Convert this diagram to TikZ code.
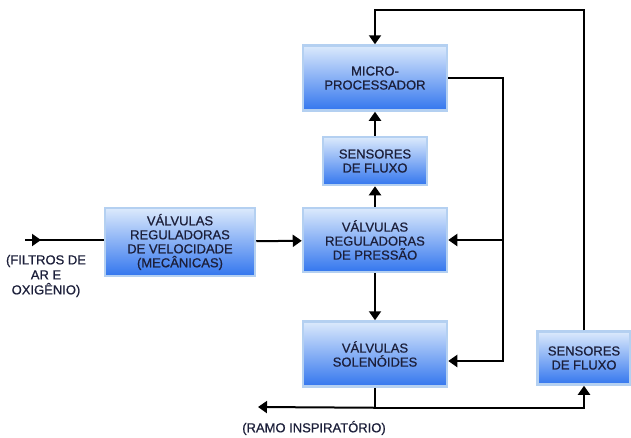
\documentclass[tikz,border=0pt]{standalone}
\usepackage{fontspec}
\setmainfont{Liberation Sans}
\newfontfamily\boxfont[FakeBold=0.8]{Liberation Sans}
\usepackage{tikz}
\usetikzlibrary{arrows.meta}

\definecolor{boxtop}{HTML}{DCEAFC}
\definecolor{boxmid}{HTML}{86B6F5}
\definecolor{boxbot}{HTML}{3376EE}
\definecolor{boxrim}{HTML}{B4D0F1}
\definecolor{boxtext}{HTML}{1C1F3A}

\tikzset{
  block/.style={draw=boxrim, line width=2.5pt, top color=boxtop, middle color=boxmid,
    bottom color=boxbot, align=center, inner sep=2pt, text=boxtext,
    font=\boxfont\fontsize{13}{14}\selectfont},
  line/.style={line width=2pt},
  arr/.style={line, -{Triangle[width=12pt,length=9pt]}},
  lbl/.style={align=center, text=boxtext, font=\boxfont\fontsize{13}{15}\selectfont}
}

\begin{document}
\begin{tikzpicture}[x=1pt,y=-1pt]
            \useasboundingbox (0,0) rectangle (631,437);
            % blocks
            \node[block,minimum width=144pt,minimum height=65pt] (micro) at (375,78) {MICRO-\\PROCESSADOR};
            \node[block,minimum width=104pt,minimum height=48pt] (sens1) at (375,161) {SENSORES\\DE FLUXO};
            \node[block,minimum width=144pt,minimum height=64pt] (pres) at (375,240) {VÁLVULAS\\REGULADORAS\\DE PRESSÃO};
            \node[block,minimum width=150pt,minimum height=68pt] (vel) at (180,242) {VÁLVULAS\\REGULADORAS\\DE VELOCIDADE\\(MECÂNICAS)};
            \node[block,minimum width=144pt,minimum height=65pt] (sol) at (375,354) {VÁLVULAS\\SOLENÓIDES};
            \node[block,minimum width=93pt,minimum height=53pt] (sens2) at (584,358) {SENSORES\\DE FLUXO};
            % labels
            \node[lbl] (filtros) at (46,276) {(FILTROS DE\\AR E\\OXIGÊNIO)};
            \node[lbl] (ramo) at (314,428) {(RAMO INSPIRATÓRIO)};
            % connectors
            \coordinate (in) at (25,240);
            \coordinate (out) at (258,407);
            \draw[line] (in) -- (vel.west |- in);
            \draw[arr] (in) -- ++(16,0);
            \draw[arr] (vel) -- (pres);
            \draw[arr] (pres) -- (sens1);
            \draw[arr] (sens1) -- (micro);
            \draw[arr] (pres) -- (sol);
            \draw[arr] (micro.east) -- ++(55,0) coordinate (fb) |- ([yshift=-7pt]sol.east);
            \draw[arr] (fb |- pres) -- (pres.east);
            \draw[arr] (sens2.north) -- ++(0,-320) -| (micro.north);
            \draw[line] (sol.south) -- ++(0,20) coordinate (tee);
            \draw[arr] (tee) -- (out);
            \draw[arr] (tee) -| (sens2.south);
        \end{tikzpicture}
\end{document}
